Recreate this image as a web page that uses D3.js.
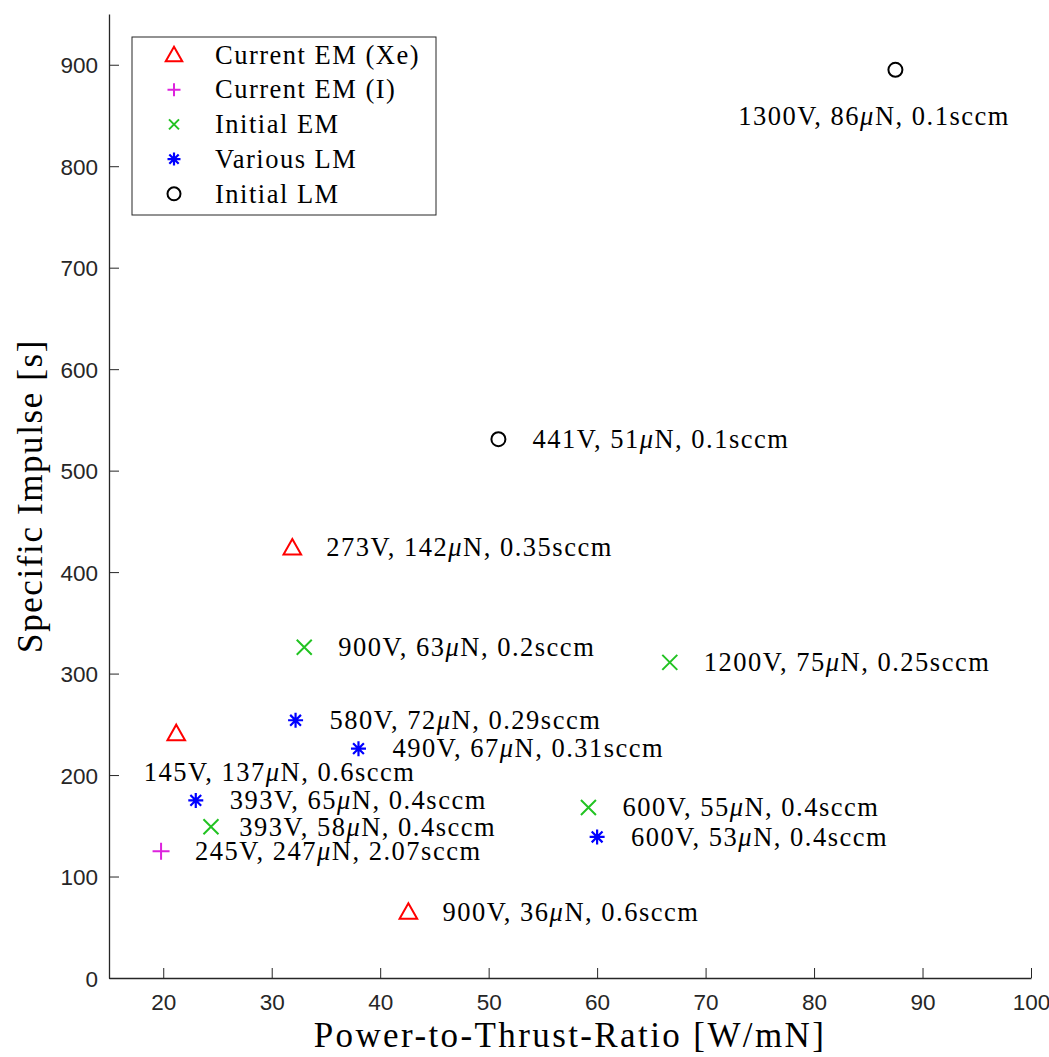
<!DOCTYPE html>
<html>
<head>
<meta charset="utf-8">
<script src="https://cdn.jsdelivr.net/npm/d3@7"></script>
<style>
  body { margin: 0; background: #fff; }
  text { fill: #000; }
  .tick text { font-family: "Liberation Sans", Arial, sans-serif; font-size: 22.5px; fill: #262626; }
  .lbl { font-family: "Liberation Serif", "Times New Roman", serif; font-size: 26.5px; letter-spacing: 1.5px; }
  .title { font-family: "Liberation Serif", "Times New Roman", serif; font-size: 35px; letter-spacing: 2.4px; }
</style>
</head>
<body>
<div id="chart"></div>
<script>
// series names (legend order)
const seriesNames = ["Current EM (Xe)", "Current EM (I)", "Initial EM", "Various LM", "Initial LM"];

// Current EM (Xe)
const xeRatio = [21.2, 31.9, 42.6];
const xeIsp = [241, 424, 65];
const xeText = [["145V, 137", "N, 0.6sccm"], ["273V, 142", "N, 0.35sccm"], ["900V, 36", "N, 0.6sccm"]];

// Current EM (I)
const iRatio = [19.8];
const iIsp = [125];
const iText = [["245V, 247", "N, 2.07sccm"]];

// Initial EM
const initEmRatio = [33.0, 66.7, 24.4, 59.2];
const initEmIsp = [326, 311, 149, 168];
const initEmText = [["900V, 63", "N, 0.2sccm"], ["1200V, 75", "N, 0.25sccm"], ["393V, 58", "N, 0.4sccm"], ["600V, 55", "N, 0.4sccm"]];

// Various LM
const variousRatio = [32.2, 38.0, 23.0, 60.0];
const variousIsp = [254, 226, 175, 139];
const variousText = [["580V, 72", "N, 0.29sccm"], ["490V, 67", "N, 0.31sccm"], ["393V, 65", "N, 0.4sccm"], ["600V, 53", "N, 0.4sccm"]];

// Initial LM
const initLmRatio = [50.9, 87.5];
const initLmIsp = [531, 895];
const initLmText = [["441V, 51", "N, 0.1sccm"], ["1300V, 86", "N, 0.1sccm"]];

const xTicks = [20, 30, 40, 50, 60, 70, 80, 90, 100];
const yTicks = [0, 100, 200, 300, 400, 500, 600, 700, 800, 900];

const width = 1049, height = 1057;
const margin = {left: 109, right: 18, top: 14, bottom: 79};

const svg = d3.select("#chart").append("svg")
  .attr("width", width).attr("height", height);

const x = d3.scaleLinear().domain([15, 100]).range([margin.left, width - margin.right]);
const y = d3.scaleLinear().domain([0, 950]).range([height - margin.bottom, margin.top]);

// axes, ticks inside like matlab
const xAxis = svg.append("g")
  .attr("transform", `translate(0,${y(0)})`)
  .call(d3.axisBottom(x).tickValues(xTicks).tickSizeInner(-10).tickSizeOuter(0).tickPadding(16));
const yAxis = svg.append("g")
  .attr("transform", `translate(${x(15)},0)`)
  .call(d3.axisLeft(y).tickValues(yTicks).tickSizeInner(-10).tickSizeOuter(0).tickPadding(11));
svg.selectAll(".domain").attr("stroke", "#262626").attr("stroke-width", 1.3);
svg.selectAll(".tick line").attr("stroke", "#262626").attr("stroke-width", 1);
yAxis.selectAll(".tick text").attr("dy", "0.36em");

// axis titles
svg.append("text").attr("class", "title")
  .attr("x", (x(15) + x(100)) / 2).attr("y", 1047)
  .attr("text-anchor", "middle")
  .text("Power-to-Thrust-Ratio [W/mN]");
svg.append("text").attr("class", "title")
  .attr("transform", `translate(42,${(y(0) + y(950)) / 2}) rotate(-90)`)
  .attr("text-anchor", "middle")
  .style("letter-spacing", "1.6px")
  .text("Specific Impulse [s]");

// marker shapes
const markers = {
  tri: (g, s, c) => g.append("path")
    .attr("d", `M0,${-s * 0.55}L${s * 0.55},${s * 0.42}L${-s * 0.55},${s * 0.42}Z`)
    .attr("fill", "none").attr("stroke", c).attr("stroke-width", 2),
  plus: (g, s, c) => g.append("path")
    .attr("d", `M${-s / 2},0H${s / 2}M0,${-s / 2}V${s / 2}`)
    .attr("stroke", c).attr("stroke-width", 2),
  cross: (g, s, c) => g.append("path")
    .attr("d", `M${-s / 2},${-s / 2}L${s / 2},${s / 2}M${-s / 2},${s / 2}L${s / 2},${-s / 2}`)
    .attr("stroke", c).attr("stroke-width", 2),
  star: (g, s, c) => g.append("path")
    .attr("d", `M${-s / 2},0H${s / 2}M0,${-s / 2}V${s / 2}` +
      `M${-s * 0.36},${-s * 0.36}L${s * 0.36},${s * 0.36}M${-s * 0.36},${s * 0.36}L${s * 0.36},${-s * 0.36}`)
    .attr("stroke", c).attr("stroke-width", 2.2),
  circle: (g, s, c) => g.append("circle")
    .attr("r", s / 2).attr("fill", "none").attr("stroke", c).attr("stroke-width", 2)
};

const series = [
  {name: seriesNames[0], xs: xeRatio, ys: xeIsp, txt: xeText, m: "tri", c: "#ff0000", size: 16, legSize: 15},
  {name: seriesNames[1], xs: iRatio, ys: iIsp, txt: iText, m: "plus", c: "#dd22dd", size: 17, legSize: 13},
  {name: seriesNames[2], xs: initEmRatio, ys: initEmIsp, txt: initEmText, m: "cross", c: "#22c322", size: 15, legSize: 10},
  {name: seriesNames[3], xs: variousRatio, ys: variousIsp, txt: variousText, m: "star", c: "#0000ff", size: 15, legSize: 13},
  {name: seriesNames[4], xs: initLmRatio, ys: initLmIsp, txt: initLmText, m: "circle", c: "#000000", size: 14, legSize: 13}
];

// label placement: default to the right of the point; a few are placed like text() calls in data units
const labelAt = {
  "145V, 137": [18.2, 203],
  "1300V, 86": [73.0, 849],
  "393V, 58": [27.0, 149]
};

function addLabel(px, py, parts) {
  const t = svg.append("text").attr("class", "lbl")
    .attr("x", px).attr("y", py).attr("dy", "0.33em");
  t.append("tspan").text(parts[0]);
  t.append("tspan").style("font-style", "italic").text("\u03bc");
  t.append("tspan").text(parts[1]);
}

series.forEach(s => {
  s.xs.forEach((v, i) => {
    const g = svg.append("g").attr("transform", `translate(${x(v)},${y(s.ys[i])})`);
    markers[s.m](g, s.size, s.c);
    const pos = labelAt[s.txt[i][0]];
    if (pos) addLabel(x(pos[0]), y(pos[1]), s.txt[i]);
    else addLabel(x(v) + 34, y(s.ys[i]), s.txt[i]);
  });
});

// legend
const legend = svg.append("g").attr("transform", "translate(132,37)");
legend.append("rect")
  .attr("width", 304).attr("height", 178)
  .attr("fill", "#fff").attr("stroke", "#262626").attr("stroke-width", 1);
series.forEach((s, i) => {
  const row = legend.append("g").attr("transform", `translate(42,${18 + i * 34.7})`);
  markers[s.m](row, s.legSize, s.c);
  row.append("text").attr("class", "lbl")
    .attr("x", 41).attr("dy", "0.33em")
    .text(s.name);
});
</script>
</body>
</html>
